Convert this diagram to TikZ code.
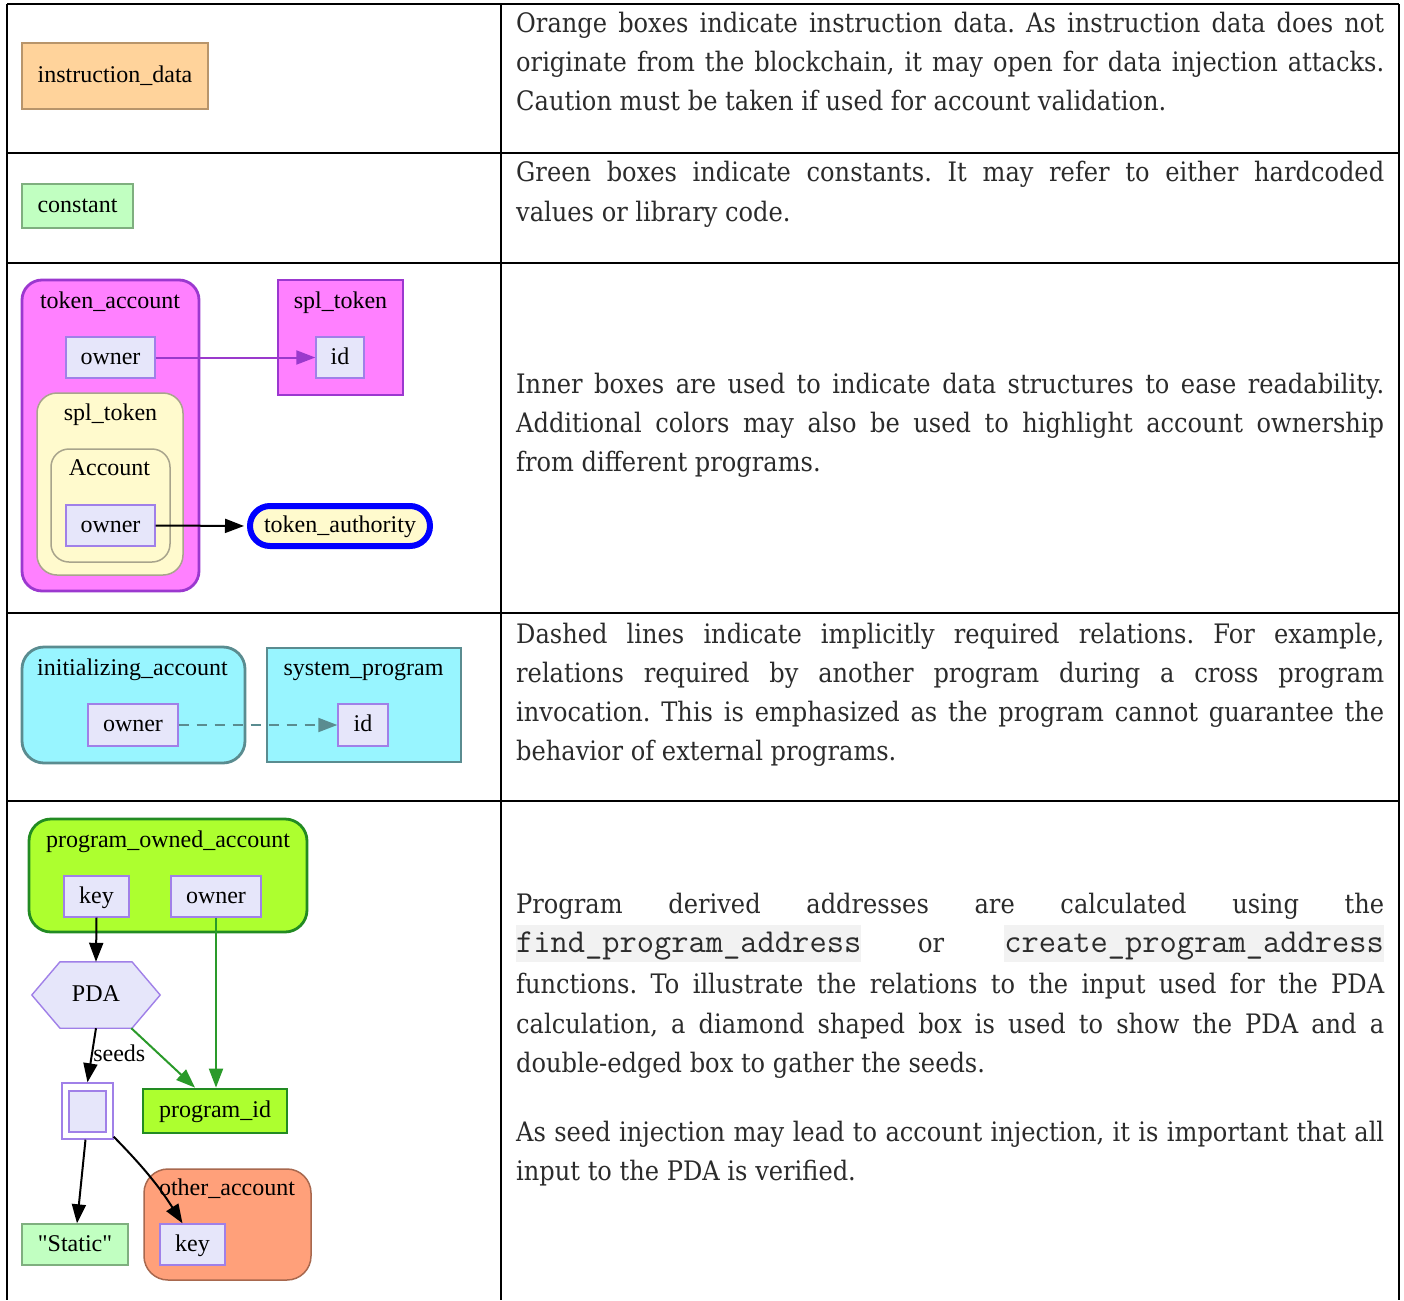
\documentclass[tikz,border=0pt]{standalone}
\usepackage{fontspec}
\setmainfont{DejaVu Serif}[FakeStretch=0.9]
\newfontfamily\gvfont{Liberation Serif}[Ligatures=TeXOff]
\usetikzlibrary{arrows.meta,calc}
\frenchspacing

\definecolor{orgfill}{HTML}{FFD39B}
\definecolor{orgdraw}{HTML}{B8956B}
\definecolor{cstfill}{HTML}{C1FFC1}
\definecolor{cstdraw}{HTML}{7FAF7F}
\definecolor{magfill}{HTML}{FF80FF}
\definecolor{magdraw}{HTML}{9B38CF}
\definecolor{lemon}{HTML}{FFFACD}
\definecolor{lemondraw}{HTML}{A8A48C}
\definecolor{lav}{HTML}{E6E6FA}
\definecolor{lavdraw}{HTML}{A080E8}
\definecolor{cyanfill}{HTML}{98F5FF}
\definecolor{cyandraw}{HTML}{5A8C90}
\definecolor{gyfill}{HTML}{ADFF2F}
\definecolor{gydraw}{HTML}{228B22}
\definecolor{salfill}{HTML}{FFA07A}
\definecolor{saldraw}{HTML}{A8684E}
\definecolor{purparrow}{HTML}{9A3ACC}
\definecolor{greenarrow}{HTML}{2A9A2A}
\definecolor{txtgray}{HTML}{2B2B2B}
\definecolor{codebg}{HTML}{F2F2F2}

% one justified line of the description column
\newcommand\jline[1]{\makebox[868pt][s]{#1}}

\tikzset{
  gridline/.style={line width=2.2pt, black},
  gv/.style={font=\gvfont\fontsize{24}{28}\selectfont},
  box/.style={gv, rectangle, inner sep=0pt, text height=16pt, text depth=3pt},
  field/.style={box, draw=lavdraw, fill=lav, line width=1.4pt},
  cluster/.style={rectangle, inner sep=0pt, line width=2.8pt},
  clabel/.style={gv, anchor=base, inner sep=0pt},
  garrow/.style={line width=2pt, -{Triangle[length=19pt,width=14pt]}},
  bodytext/.style={anchor=base west, inner sep=0pt, text=txtgray,
    font=\fontsize{26.8}{39}\selectfont},
  codebox/.style={inner sep=0pt, text height=27pt, text depth=10pt, fill=codebg,
    text=txtgray, font=\ttfamily\fontsize{33.5}{39}\selectfont},
}

\begin{document}
\begin{tikzpicture}[x=1pt,y=-1pt]
\useasboundingbox (0,0) rectangle (1404,1300);
\fill[white] (0,0) rectangle (1404,1300);

% ---------- table rules ----------
\draw[gridline] (7,4) -- (1399,4);
\draw[gridline] (7,153) -- (1399,153);
\draw[gridline] (7,263) -- (1399,263);
\draw[gridline] (7,613) -- (1399,613);
\draw[gridline] (7,801) -- (1399,801);
\draw[gridline] (7,4) -- (7,1300);
\draw[gridline] (501,4) -- (501,1300);
\draw[gridline] (1399,4) -- (1399,1300);

% ---------- row 1: instruction data ----------
\node[box, draw=orgdraw, fill=orgfill, line width=1.4pt,
      minimum width=186pt, minimum height=66pt] (instr) at (115,76) {instruction\_data};

% ---------- row 2: constant ----------
\node[box, draw=cstdraw, fill=cstfill, line width=1.4pt,
      minimum width=111pt, minimum height=44pt] (const) at (77.5,206) {constant};

% ---------- row 3: nested structures ----------
\node[cluster, draw=magdraw, fill=magfill, rounded corners=20pt,
      minimum width=177pt, minimum height=311pt] (tokacc) at (110.5,435.5) {};
\node[clabel] (tokacclbl) at (110,308) {token\_account};
\node[field, minimum width=89pt, minimum height=41pt] (ownA) at (110.5,357.5) {owner};
\node[cluster, draw=lemondraw, fill=lemon, line width=1.5pt, rounded corners=20pt,
      minimum width=146pt, minimum height=182pt] (splin) at (110,484) {};
\node[clabel] (splinlbl) at (110.5,420) {spl\_token};
\node[cluster, draw=lemondraw, fill=lemon, line width=1.5pt, rounded corners=18pt,
      minimum width=119pt, minimum height=113pt] (acct) at (110.5,505.5) {};
\node[clabel] (acctlbl) at (109.5,475) {Account};
\node[field, minimum width=89pt, minimum height=41pt] (ownB) at (110.5,525.5) {owner};

\node[cluster, draw=magdraw, fill=magfill,
      minimum width=125pt, minimum height=115pt] (splout) at (340.5,337.5) {};
\node[clabel] (sploutlbl) at (340.5,308) {spl\_token};
\node[field, minimum width=48pt, minimum height=41pt] (idA) at (340,357.5) {id};

\node[box, draw=blue, fill=lemon, line width=6pt, rounded corners=20pt,
      minimum width=180pt, minimum height=40pt] (tokauth) at (340,526) {token\_authority};

\draw[garrow, purparrow] (ownA.east) -- (idA.west);
\draw[garrow, black, shorten >=3pt] (ownB.east) -- (tokauth.west);

% ---------- row 4: implicit relation ----------
\node[cluster, draw=cyandraw, fill=cyanfill, rounded corners=22pt,
      minimum width=223pt, minimum height=116pt] (initacc) at (133.5,705) {};
\node[clabel] (initacclbl) at (132.5,675) {initializing\_account};
\node[field, minimum width=90pt, minimum height=42pt] (ownC) at (133,725) {owner};
\node[cluster, draw=cyandraw, fill=cyanfill,
      minimum width=194pt, minimum height=114pt] (sysprog) at (364,705) {};
\node[clabel] (sysproglbl) at (363.5,675) {system\_program};
\node[field, minimum width=50pt, minimum height=42pt] (idB) at (363,725) {id};

\draw[garrow, cyandraw, dash pattern=on 10pt off 8pt] (ownC.east) -- (idB.west);

% ---------- row 5: program derived address ----------
\node[cluster, draw=gydraw, fill=gyfill, rounded corners=22pt,
      minimum width=278pt, minimum height=113pt] (poa) at (168,875.5) {};
\node[clabel] (poalbl) at (168,847) {program\_owned\_account};
\node[field, minimum width=65pt, minimum height=41pt] (keyA) at (96.5,896.5) {key};
\node[field, minimum width=90pt, minimum height=41pt] (ownD) at (216,896.5) {owner};

\node[box, minimum width=128pt, minimum height=66pt] (pda) at (96,995) {};
\draw[draw=lavdraw, fill=lav, line width=1.4pt]
  (pda.west) -- ($(pda.north)+(-36,0)$) -- ($(pda.north)+(36,0)$) -- (pda.east)
  -- ($(pda.south)+(36,0)$) -- ($(pda.south)+(-36,0)$) -- cycle;
\node[box] (pdalbl) at (pda.center) {PDA};

\node[rectangle, draw=lavdraw, fill=white, line width=1.4pt,
      minimum width=51pt, minimum height=56pt] (seedout) at (87.5,1111) {};
\node[rectangle, draw=lavdraw, fill=lav, line width=1.4pt,
      minimum width=37pt, minimum height=41pt] (seedin) at (87.5,1111.5) {};

\node[box, draw=gydraw, fill=gyfill, line width=2.8pt,
      minimum width=144pt, minimum height=44pt] (progid) at (215,1111) {program\_id};

\node[box, draw=cstdraw, fill=cstfill, line width=1.4pt,
      minimum width=106pt, minimum height=41pt] (static) at (75,1244.5) {"Static"};

\node[cluster, draw=saldraw, fill=salfill, line width=1.5pt, rounded corners=24pt,
      minimum width=167pt, minimum height=111pt] (other) at (227.5,1224.5) {};
\node[clabel] (otherlbl) at (227,1195) {other\_account};
\node[field, minimum width=65pt, minimum height=41pt] (keyB) at (192.5,1244.5) {key};

\draw[garrow, black] (keyA.south) -- (pda.north);
\draw[garrow, black] (pda.south) -- (seedout.north)
  node[clabel, pos=0.55, anchor=base west, xshift=1pt, yshift=-4pt] (seedlbl) {seeds};
\draw[garrow, greenarrow] ($(pda.south)!0.55!(pda.south east)$) -- ($(progid.north)+(-20,0)$);
\draw[garrow, greenarrow] (ownD.south) -- (ownD.south |- progid.north);
\draw[garrow, black] ($(seedout.south)+(-2,0)$) -- ($(static.north)+(2,0)$);
\draw[garrow, black] ($(seedout.south east)+(0,-3)$) to[bend left=6] ($(keyB.north)+(-10,0)$);

% ---------- description column ----------
\node[bodytext] (d1a) at (516,33)  {\jline{Orange boxes indicate instruction data. As instruction data does not}};
\node[bodytext] (d1b) at (516,72)  {\jline{originate from the blockchain, it may open for data injection attacks.}};
\node[bodytext] (d1c) at (516,111) {Caution must be taken if used for account validation.};

\node[bodytext] (d2a) at (516,182) {\jline{Green boxes indicate constants. It may refer to either hardcoded}};
\node[bodytext] (d2b) at (516,221) {values or library code.};

\node[bodytext] (d3a) at (516,393) {\jline{Inner boxes are used to indicate data structures to ease readability.}};
\node[bodytext] (d3b) at (516,432) {\jline{Additional colors may also be used to highlight account ownership}};
\node[bodytext] (d3c) at (516,471) {from different programs.};

\node[bodytext] (d4a) at (516,643) {\jline{Dashed lines indicate implicitly required relations. For example,}};
\node[bodytext] (d4b) at (516,682) {\jline{relations required by another program during a cross program}};
\node[bodytext] (d4c) at (516,721) {\jline{invocation. This is emphasized as the program cannot guarantee the}};
\node[bodytext] (d4d) at (516,760) {behavior of external programs.};

\node[bodytext] (d5a) at (516,913) {\jline{Program derived addresses are calculated using the}};
\node[codebox, anchor=base west] (d5code1) at (516,952) {find\_program\_address};
\node[bodytext] (d5or) at (918,952) {or};
\node[codebox, anchor=base east] (d5code2) at (1384,952) {create\_program\_address};
\node[bodytext] (d5c) at (516,993)  {\jline{functions. To illustrate the relations to the input used for the PDA}};
\node[bodytext] (d5d) at (516,1033) {\jline{calculation, a diamond shaped box is used to show the PDA and a}};
\node[bodytext] (d5e) at (516,1072) {double-edged box to gather the seeds.};
\node[bodytext] (d5f) at (516,1141) {\jline{As seed injection may lead to account injection, it is important that all}};
\node[bodytext] (d5g) at (516,1180) {input to the PDA is verified.};
\end{tikzpicture}
\end{document}
